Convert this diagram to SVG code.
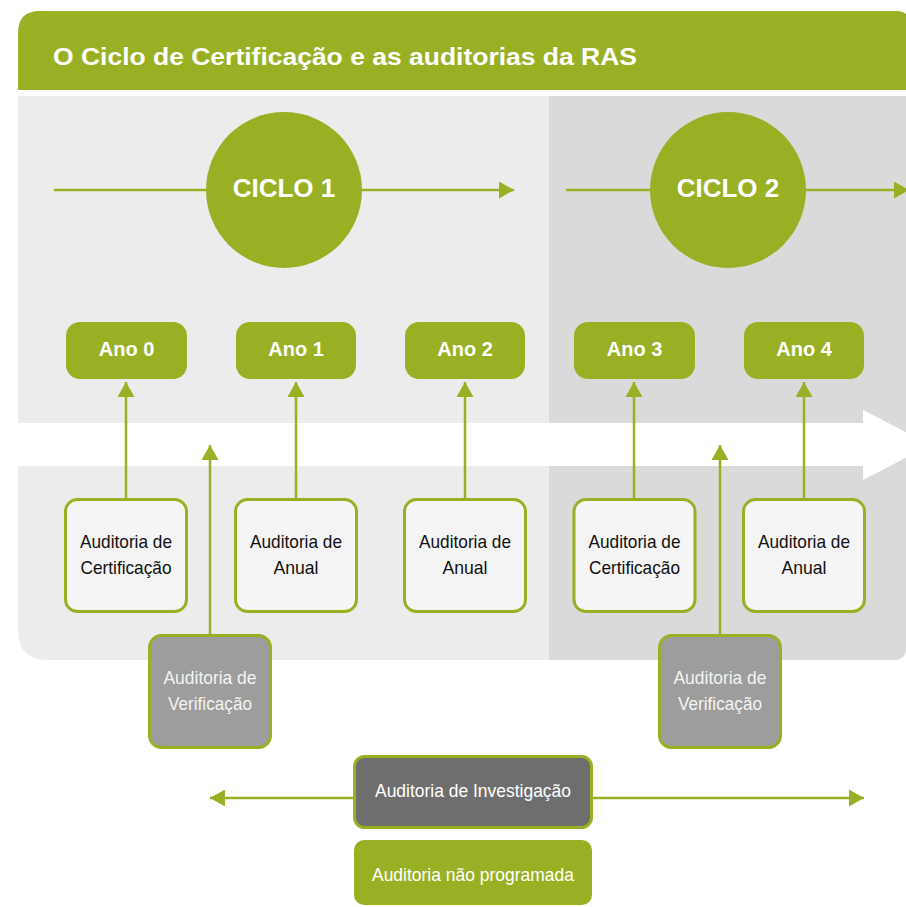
<svg xmlns="http://www.w3.org/2000/svg" width="906" height="907" viewBox="0 0 906 907">
<style>
.t{font-family:"Liberation Sans",Arial,sans-serif}
.title{font-size:24px;font-weight:bold;fill:#ffffff}
.ciclo{font-size:26px;font-weight:bold;fill:#ffffff;text-anchor:middle}
.ano{font-size:20px;font-weight:bold;fill:#ffffff;text-anchor:middle}
.aud{font-size:19px;fill:#111111;text-anchor:middle}
.ver{font-size:19px;fill:#f4f4f4;text-anchor:middle}
.inv{font-size:19px;fill:#ffffff;text-anchor:middle}
.anobox{fill:#9ab024}
.audbox{fill:#f5f5f5;stroke:#9ab024;stroke-width:3}
.verbox{fill:#9d9d9d;stroke:#9ab024;stroke-width:3}
.invbox{fill:#6e6e6e;stroke:#9ab024;stroke-width:3}
.conn{stroke:#9ab024;stroke-width:2.5;fill:none}
</style>
<defs>
<marker id="ah" markerUnits="userSpaceOnUse" viewBox="0 0 15 17" refX="15" refY="8.5" markerWidth="15" markerHeight="17" orient="auto">
<path d="M0,0 L15,8.5 L0,17 Z" fill="#9ab024"/>
</marker>
</defs>
<rect width="906" height="907" fill="#ffffff"/>
<!-- header -->
<path d="M18,90 V33 Q18,11 40,11 H896 Q910,11 910,25 V90 Z" fill="#9ab024"/>
<text class="t title" x="53" y="65" textLength="584" lengthAdjust="spacingAndGlyphs">O Ciclo de Certificação e as auditorias da RAS</text>
<!-- panels -->
<path d="M18,96 H549 V660 H48 Q18,660 18,630 Z" fill="#ececec"/>
<path d="M549,96 H908 V660 H549 Z" fill="#dadada"/>
<path d="M894,660 Q906,660 906,648 V660 Z" fill="#ffffff"/>
<!-- white band arrow -->
<polygon points="18,423 863,423 863,410 931,445 863,480 863,466 18,466" fill="#ffffff"/>
<g id="connectors">
<line class="conn" x1="54" y1="190" x2="514" y2="190" marker-end="url(#ah)"/>
<line class="conn" x1="566" y1="190" x2="909" y2="190" marker-end="url(#ah)"/>
<line class="conn" x1="126" y1="499" x2="126" y2="382" marker-end="url(#ah)"/>
<line class="conn" x1="296" y1="499" x2="296" y2="382" marker-end="url(#ah)"/>
<line class="conn" x1="465" y1="499" x2="465" y2="382" marker-end="url(#ah)"/>
<line class="conn" x1="634" y1="499" x2="634" y2="382" marker-end="url(#ah)"/>
<line class="conn" x1="804" y1="499" x2="804" y2="382" marker-end="url(#ah)"/>
<line class="conn" x1="210" y1="635" x2="210" y2="445" marker-end="url(#ah)"/>
<line class="conn" x1="720" y1="635" x2="720" y2="445" marker-end="url(#ah)"/>
<line class="conn" x1="354" y1="798" x2="210" y2="798" marker-end="url(#ah)"/>
<line class="conn" x1="592" y1="798" x2="864" y2="798" marker-end="url(#ah)"/>
</g>
<g id="ciclo1"><circle cx="284" cy="190" r="78" fill="#9ab024"/><text class="t ciclo" x="284" y="197">CICLO 1</text></g>
<g id="ciclo2"><circle cx="728" cy="190" r="78" fill="#9ab024"/><text class="t ciclo" x="728" y="197">CICLO 2</text></g>
<g id="ano0"><rect class="anobox" x="66" y="322" width="121" height="57" rx="14"/><text class="t ano" x="126.5" y="356">Ano 0</text></g>
<g id="ano1"><rect class="anobox" x="236" y="322" width="120" height="57" rx="14"/><text class="t ano" x="296" y="356">Ano 1</text></g>
<g id="ano2"><rect class="anobox" x="405" y="322" width="120" height="57" rx="14"/><text class="t ano" x="465" y="356">Ano 2</text></g>
<g id="ano3"><rect class="anobox" x="574" y="322" width="121" height="57" rx="14"/><text class="t ano" x="634.5" y="356">Ano 3</text></g>
<g id="ano4"><rect class="anobox" x="744" y="322" width="120" height="57" rx="14"/><text class="t ano" x="804" y="356">Ano 4</text></g>
<g id="aud0"><rect class="audbox" x="65.5" y="499.5" width="121" height="112" rx="12"/><text class="t aud" x="126" y="548" textLength="92" lengthAdjust="spacingAndGlyphs">Auditoria de</text><text class="t aud" x="126" y="574" textLength="91" lengthAdjust="spacingAndGlyphs">Certificação</text></g>
<g id="aud1"><rect class="audbox" x="235.5" y="499.5" width="121" height="112" rx="12"/><text class="t aud" x="296" y="548" textLength="92" lengthAdjust="spacingAndGlyphs">Auditoria de</text><text class="t aud" x="296" y="574" textLength="45" lengthAdjust="spacingAndGlyphs">Anual</text></g>
<g id="aud2"><rect class="audbox" x="404.5" y="499.5" width="121" height="112" rx="12"/><text class="t aud" x="465" y="548" textLength="92" lengthAdjust="spacingAndGlyphs">Auditoria de</text><text class="t aud" x="465" y="574" textLength="45" lengthAdjust="spacingAndGlyphs">Anual</text></g>
<g id="aud3"><rect class="audbox" x="574" y="499.5" width="121" height="112" rx="12"/><text class="t aud" x="634.5" y="548" textLength="92" lengthAdjust="spacingAndGlyphs">Auditoria de</text><text class="t aud" x="634.5" y="574" textLength="91" lengthAdjust="spacingAndGlyphs">Certificação</text></g>
<g id="aud4"><rect class="audbox" x="743.5" y="499.5" width="121" height="112" rx="12"/><text class="t aud" x="804" y="548" textLength="92" lengthAdjust="spacingAndGlyphs">Auditoria de</text><text class="t aud" x="804" y="574" textLength="45" lengthAdjust="spacingAndGlyphs">Anual</text></g>
<g id="ver1"><rect class="verbox" x="149.5" y="635.5" width="121" height="112" rx="12"/><text class="t ver" x="210" y="684" textLength="93" lengthAdjust="spacingAndGlyphs">Auditoria de</text><text class="t ver" x="210" y="710" textLength="84" lengthAdjust="spacingAndGlyphs">Verificação</text></g>
<g id="ver2"><rect class="verbox" x="659.5" y="635.5" width="121" height="112" rx="12"/><text class="t ver" x="720" y="684" textLength="93" lengthAdjust="spacingAndGlyphs">Auditoria de</text><text class="t ver" x="720" y="710" textLength="84" lengthAdjust="spacingAndGlyphs">Verificação</text></g>
<g id="investigacao"><rect class="invbox" x="354.5" y="756.5" width="237" height="71" rx="10"/><text class="t inv" x="473" y="797" textLength="196" lengthAdjust="spacingAndGlyphs">Auditoria de Investigação</text></g>
<g id="naoprogramada"><rect x="354" y="840" width="238" height="65" rx="10" fill="#9ab024"/><text class="t inv" x="473" y="881" textLength="202" lengthAdjust="spacingAndGlyphs">Auditoria não programada</text></g>
</svg>
